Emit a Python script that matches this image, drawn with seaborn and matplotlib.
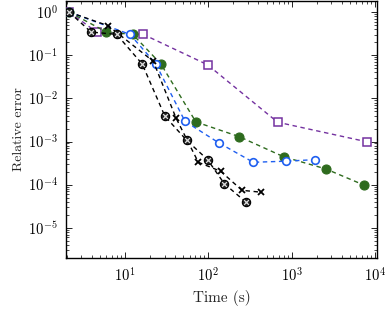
import numpy as np
import pandas as pd
import matplotlib
matplotlib.use("Agg")
import matplotlib.pyplot as plt
from matplotlib.ticker import LogLocator, NullFormatter
import seaborn as sns

# ---- data ----
purple_x = [2.13, 4.57, 16.6, 98, 680, 8100]
purple_y = [1.0, 0.344, 0.303, 0.060, 2.8e-3, 9.8e-4]

green_x = [2.13, 6.0, 12.4, 27, 71, 234, 811, 2570, 7470]
green_y = [1.0, 0.344, 0.303, 0.0625, 2.84e-3, 1.3e-3, 4.4e-4, 2.32e-4, 9.7e-5]

blue_x = [2.13, 11.5, 23.3, 52.5, 134, 347, 857, 1905]
blue_y = [1.0, 0.303, 0.064, 2.94e-3, 9.3e-4, 3.3e-4, 3.5e-4, 3.8e-4]

cross_x = [2.13, 6.3, 21.9, 41, 76, 141, 254, 426]
cross_y = [1.0, 0.48, 0.072, 3.5e-3, 3.3e-4, 2.04e-4, 7.4e-5, 6.7e-5]

otimes_x = [2.13, 3.91, 7.94, 16.1, 30.2, 55, 98, 156, 281]
otimes_y = [1.0, 0.344, 0.303, 0.0625, 3.83e-3, 1.07e-3, 3.8e-4, 1.05e-4, 4.0e-5]

x_label = "Time (s)"
y_label = "Relative error"

sns.set_theme(style="ticks")
plt.rcParams.update({
    "font.family": "serif",
    "font.serif": ["cmr10"],
    "mathtext.fontset": "cm",
    "axes.formatter.use_mathtext": True,
    "axes.unicode_minus": False,
    "font.size": 10,
})

fig = plt.figure(figsize=(3.91, 3.10), dpi=100)
ax = fig.add_axes([66/391, (310-258)/310, (377-66)/391, (258-1)/310])

PURPLE = "#7432a0"
GREEN = "#2e6b1e"
BLUE = "#1f5ff0"
dash = (3.2, 2.6)
lw = 1.0

sns.lineplot(x=purple_x, y=purple_y, ax=ax, color=PURPLE, lw=lw,
             linestyle=(0, dash), marker="s", markersize=6, markerfacecolor="white",
             markeredgecolor=PURPLE, markeredgewidth=1.1, zorder=3)
sns.lineplot(x=green_x, y=green_y, ax=ax, color=GREEN, lw=lw,
             linestyle=(0, dash), marker="o", markersize=6.5, markerfacecolor=GREEN,
             markeredgecolor=GREEN, markeredgewidth=0.8, zorder=3)
sns.lineplot(x=blue_x, y=blue_y, ax=ax, color=BLUE, lw=lw,
             linestyle=(0, dash), marker="o", markersize=5.5, markerfacecolor="white",
             markeredgecolor=BLUE, markeredgewidth=1.2, zorder=4)
sns.lineplot(x=cross_x, y=cross_y, ax=ax, color="black", lw=lw,
             linestyle=(0, dash), marker="x", markersize=4.3, markeredgewidth=1.3,
             markeredgecolor="black", zorder=5)
sns.lineplot(x=otimes_x, y=otimes_y, ax=ax, color="black", lw=lw,
             linestyle=(0, dash), marker="o", markersize=6, markerfacecolor="#222222",
             markeredgecolor="black", markeredgewidth=0.8, zorder=5)
sns.scatterplot(x=otimes_x, y=otimes_y, ax=ax, marker="x", s=12, color="#dddddd",
                linewidth=0.9, zorder=6)

ax.set_xscale("log")
ax.set_yscale("log")
ax.set_xlim(1.96, 10600)
ax.set_ylim(2.0e-6, 1.8)

for axis in (ax.xaxis, ax.yaxis):
    axis.set_major_locator(LogLocator(base=10, numticks=20))
    axis.set_minor_locator(LogLocator(base=10, subs=np.arange(2, 10), numticks=100))
    axis.set_minor_formatter(NullFormatter())
ax.set_yticks([1e-5, 1e-4, 1e-3, 1e-2, 1e-1, 1e0])

ax.tick_params(which="both", direction="in", top=True, right=True, colors="black",
               labelsize=10.5, pad=6)
ax.tick_params(which="major", length=4, width=0.6)
ax.tick_params(which="minor", length=2.2, width=0.5)
for s in ax.spines.values():
    s.set_linewidth(1.0)
    s.set_color("black")

ax.set_xlabel(x_label, fontsize=11, labelpad=4)
ax.set_ylabel(y_label, fontsize=10, labelpad=2)

fig.savefig("out.png", dpi=100)
